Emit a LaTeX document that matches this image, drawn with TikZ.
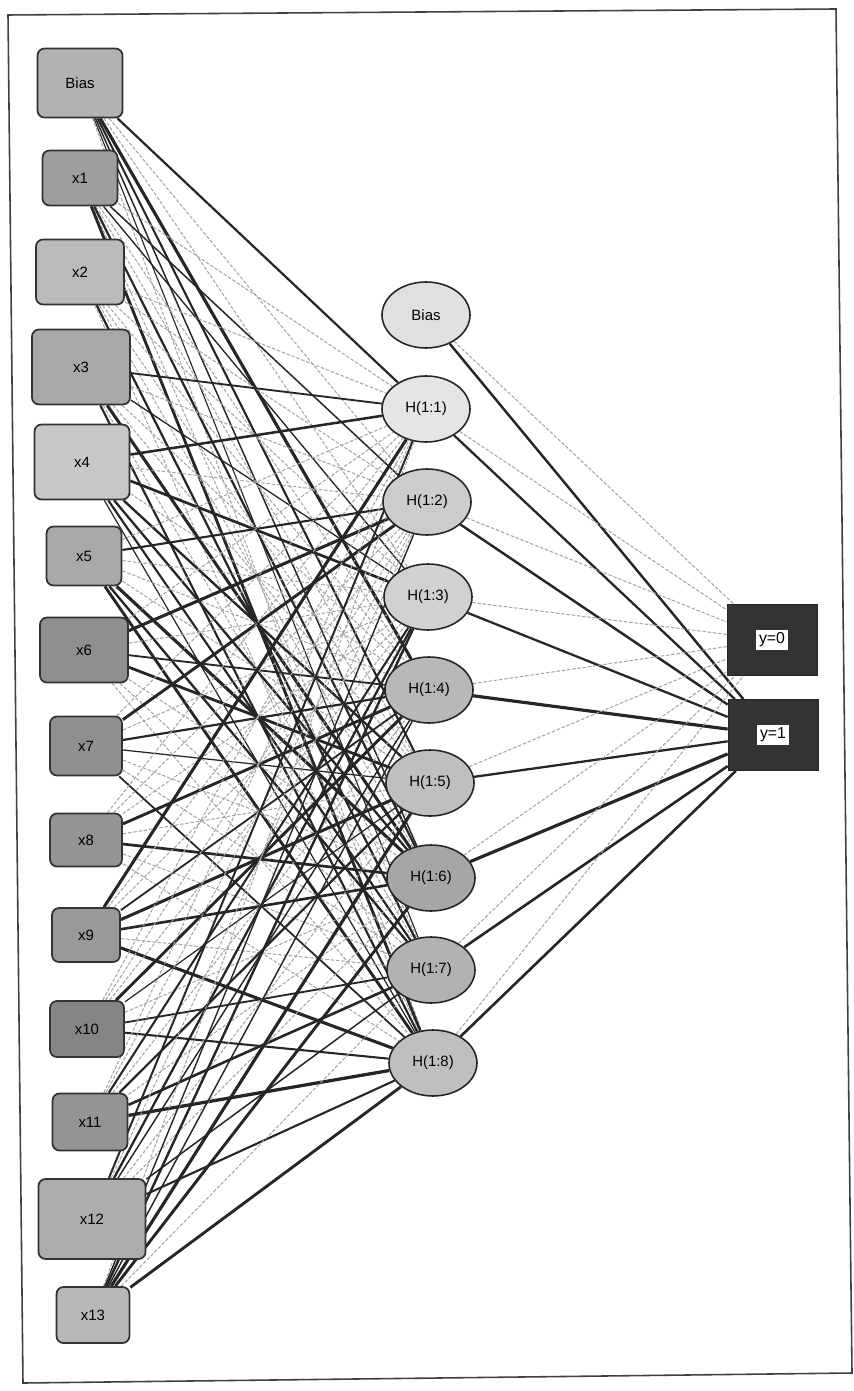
\documentclass[tikz,border=0pt]{standalone}
\usepackage{fontspec}
\setmainfont{Liberation Sans}
\usetikzlibrary{shapes.geometric}
\usetikzlibrary{backgrounds}

\begin{document}
\begin{tikzpicture}[x=0.02cm, y=-0.02cm,
    every node/.style={font=\fontsize{8.5}{10}\selectfont},
    inbox/.style={draw=black!80, line width=1pt, rounded corners=4pt, inner sep=0pt},
    hidnode/.style={ellipse, draw=black!85, line width=0.9pt, inner sep=0pt,
        minimum width=88*0.02cm, minimum height=66*0.02cm},
    outbox/.style={fill=black!80, draw=black!85, inner sep=0pt,
        minimum width=90*0.02cm, minimum height=71*0.02cm},
    outlab/.style={fill=white, inner sep=1.5pt, font=\fontsize{9}{10}\selectfont},
    wdark/.style={draw=black!85},
    wlight/.style={draw=black!35, line width=0.6pt, dash pattern=on 2pt off 1pt}]
    \useasboundingbox (0,0) rectangle (854,1391);

    % scanned page frame
    \draw[black!75, line width=0.9pt] (8,15) -- (836,9) -- (852,1373) -- (23,1383) -- cycle;

    % input layer
    \foreach \i/\t/\x/\y/\w/\h/\g in {0/Bias/80/83/85/69/30, 1/x1/80/178/75/55/38,
        2/x2/80/272/88/65/27, 3/x3/81/367/98/75/34, 4/x4/82/462/95/75/22,
        5/x5/84/556/75/59/34, 6/x6/84/650/88/65/44, 7/x7/86/746/72/59/44,
        8/x8/86/840/72/53/42, 9/x9/86/935/68/54/40, 10/x10/87/1029/74/56/48,
        11/x11/90/1122/75/57/42, 12/x12/92/1219/107/80/32, 13/x13/93/1315/73/56/28} {
        \node[inbox, fill=black!\g, minimum width=\w*0.02cm, minimum height=\h*0.02cm]
            (in\i) at (\x,\y) {\t};
    }

    % hidden layer
    \foreach \j/\t/\x/\y/\g in {0/Bias/426/315/12, 1/H(1:1)/426/409/10, 2/H(1:2)/427/502/20,
        3/H(1:3)/428/597/18, 4/H(1:4)/429/690/28, 5/H(1:5)/430/783/25,
        6/H(1:6)/431/878/35, 7/H(1:7)/431/970/30, 8/H(1:8)/433/1063/25} {
        \node[hidnode, fill=black!\g] (h\j) at (\x,\y) {\t};
    }

    % output layer
    \node[outbox] (y0) at (772,640) {};
    \node[outlab] (y0lab) at (y0) {y=0};
    \node[outbox] (y1) at (773,735) {};
    \node[outlab] (y1lab) at (y1) {y=1};

    % synaptic weights
    \begin{scope}[on background layer]
        \pgfmathsetseed{1234}
        \foreach \i in {0,...,13} {
            \foreach \j in {1,...,8} {
                \pgfmathrandominteger{\k}{0}{1}
                \pgfmathsetmacro{\lw}{0.6+1.3*rnd}
                \ifnum\k=0
                    \draw[wdark, line width=\lw pt] (in\i) -- (h\j);
                \else
                    \draw[wlight] (in\i) -- (h\j);
                \fi
            }
        }
        \foreach \j/\lw in {0/1.4, 1/1.3, 2/1.4, 3/1.3, 4/1.8, 5/1.3, 6/1.8, 7/1.5, 8/1.5} {
            \draw[wlight] (h\j) -- (y0);
            \draw[wdark, line width=\lw pt] (h\j) -- (y1);
        }
    \end{scope}
\end{tikzpicture}
\end{document}
